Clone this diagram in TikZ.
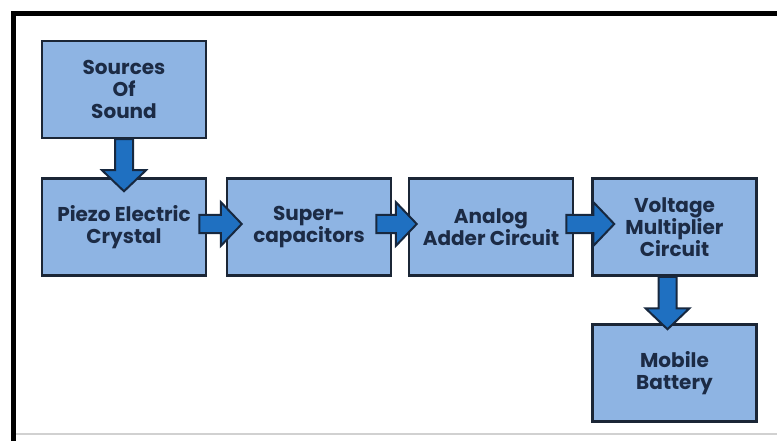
\documentclass[tikz,border=0pt]{standalone}
\usepackage{fontspec}
\setmainfont{Poppins}
\usetikzlibrary{calc}
\definecolor{boxblue}{HTML}{8EB4E3}
\definecolor{boxline}{HTML}{1B2636}
\definecolor{arrowblue}{HTML}{1F70C1}
\definecolor{arrowline}{HTML}{17283F}
\definecolor{textnavy}{HTML}{1C2B45}
\tikzset{block/.style={draw=boxline, fill=boxblue, line width=2.5pt,
  minimum width=164pt, minimum height=97pt, align=center, text=textnavy,
  font=\fontsize{20}{22}\selectfont\bfseries}}
\tikzset{fat/.style={draw=arrowline, fill=arrowblue, line width=2pt, line join=miter,
  to path={let \p1=(\tikztostart), \p2=(\tikztotarget), \p3=($(\p2)!21pt!(\p1)$) in
    ($(\p1)!9pt!90:(\p2)$) -- ($(\p3)!9pt!90:(\p2)$) -- ($(\p3)!22pt!90:(\p2)$)
    -- (\p2) -- ($(\p3)!22pt!-90:(\p2)$) -- ($(\p3)!9pt!-90:(\p2)$)
    -- ($(\p1)!9pt!-90:(\p2)$) -- cycle}}}

\begin{document}
\begin{tikzpicture}[x=1pt,y=-1pt]
  \useasboundingbox (0,0) rectangle (777,441);
  \draw [line width=5pt] (13,441) -- (13,14) -- (777,14);
  \draw [line width=2pt, black!18] (16,434) -- (777,434);
  \node [block] (src) at (124,89.5) {Sources\\Of\\Sound};
  \node [block] (piezo) at (124,227) {Piezo Electric\\Crystal};
  \node [block] (super) at (309,227) {Super-\\capacitors};
  \node [block] (adder) at (491,227) {Analog\\Adder Circuit};
  \node [block] (volt) at (674.5,227) {Voltage\\Multiplier\\Circuit};
  \node [block] (mobile) at (674.5,373) {Mobile\\Battery};
  \draw [fat] (src.south) to ($(piezo.north)+(0,14)$);
  \draw [fat] ($(piezo.east)+(-8,-3)$) to ($(super.west)+(16,-3)$);
  \draw [fat] ($(super.east)+(-16,-3)$) to ($(adder.west)+(9,-3)$);
  \draw [fat] ($(adder.east)+(-8,-3)$) to ($(volt.west)+(23,-3)$);
  \draw [fat] ($(volt.south)+(-7,0)$) to ($(mobile.north)+(-7,6)$);
\end{tikzpicture}
\end{document}
